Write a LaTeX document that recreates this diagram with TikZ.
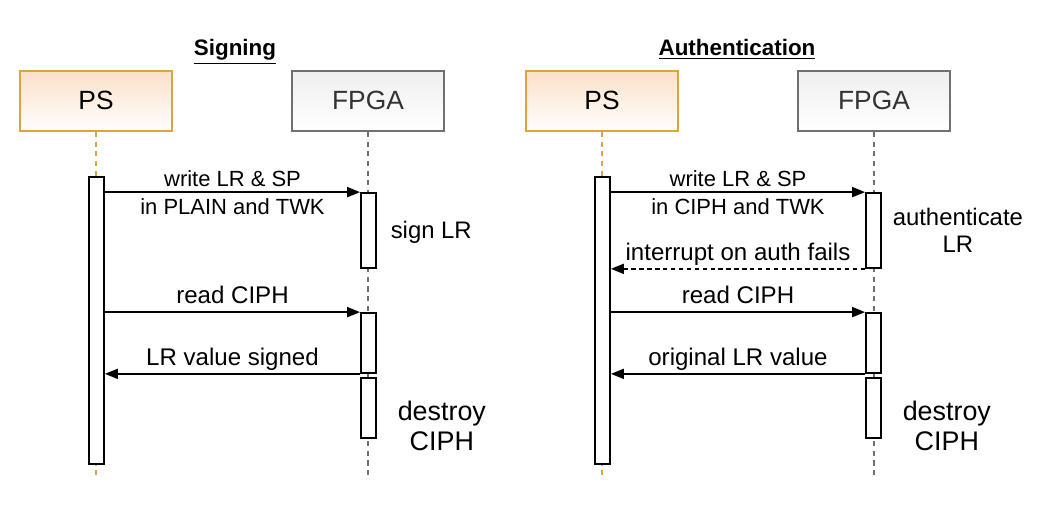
\documentclass[tikz,border=0pt]{standalone}
\usepackage{fontspec}
\setmainfont{Liberation Sans}
\usetikzlibrary{arrows.meta, positioning}

\definecolor{psline}{HTML}{D9A441}
\definecolor{psfill}{HTML}{FAE1C9}
\definecolor{fpgaline}{HTML}{707070}
\definecolor{fpgafill}{HTML}{EFEFEF}
\definecolor{fpgatext}{HTML}{333333}

\begin{document}
\begin{tikzpicture}[x = 0.02cm, y = -0.02cm, line width = 1pt,
  head/.style = { draw, minimum width = 3.04cm, minimum height = 1.2cm, inner sep = 0pt, text height = 0.94em, text depth = 0pt, font = \fontsize{15}{18}\selectfont },
  ps/.style = { head, draw = psline, top color = psfill, bottom color = white!97!psfill },
  fpga/.style = { head, draw = fpgaline, top color = fpgafill, bottom color = white, text = fpgatext },
  title/.style = { anchor = base, font = \fontsize{12.75}{15}\selectfont\bfseries },
  bar/.style = { draw, fill = white, minimum width = 0.3cm, inner sep = 0pt },
  lifeline/.style = { dash pattern = on 3pt off 2.5pt },
  msg/.style = { -{Triangle[length = 0.26cm, width = 0.2cm]} },
  reply/.style = { msg, dash pattern = on 2.5pt off 2pt },
  lbl/.style = { inner sep = 0pt, text depth = 0pt, font = \fontsize{13.7}{16}\selectfont },
  small lbl/.style = { lbl, font = \fontsize{12.5}{15}\selectfont },
  note/.style = { inner sep = 0pt, align = center, font = \fontsize{13.6}{15.4}\selectfont },
  big note/.style = { note, font = \fontsize{15.3}{17}\selectfont }]

  \useasboundingbox (0, 0) rectangle (1050, 506);

  % titles
  \node [title] (sTitle) at (235, 56) {\underline{Signing}};
  \node [title] (aTitle) at (737, 56) {\underline{Authentication}};

  % participants
  \node [ps] (sPS) at (96, 101) {PS};
  \node [fpga] (sFPGA) at (368, 101) {FPGA};
  \node [ps] (aPS) at (602, 101) {PS};
  \node [fpga] (aFPGA) at (874, 101) {FPGA};

  % lifelines
  \coordinate (sPSend) at (96, 478);
  \coordinate (sFPGAend) at (368, 478);
  \coordinate (aPSend) at (602, 478);
  \coordinate (aFPGAend) at (874, 478);
  \draw [lifeline, draw = psline] (sPS) -- (sPSend);
  \draw [lifeline, draw = fpgaline] (sFPGA) -- (sFPGAend);
  \draw [lifeline, draw = psline] (aPS) -- (aPSend);
  \draw [lifeline, draw = fpgaline] (aFPGA) -- (aFPGAend);

  % activations
  \node [bar, minimum height = 5.74cm] (sPSbar) at (96.5, 320.5) {};
  \node [bar, minimum height = 1.5cm] (sF1) at (368.5, 230.5) {};
  \node [bar, minimum height = 1.2cm] (sF2) at (368.5, 343) {};
  \node [bar, minimum height = 1.2cm] (sF3) at (368.5, 408) {};
  \node [bar, minimum height = 5.74cm] (aPSbar) at (602.5, 320.5) {};
  \node [bar, minimum height = 1.5cm] (aF1) at (873.5, 230.5) {};
  \node [bar, minimum height = 1.2cm] (aF2) at (873.5, 343) {};
  \node [bar, minimum height = 1.2cm] (aF3) at (873.5, 408) {};

  % signing
  \draw [msg] (sPSbar.east |- sF1.north west) -- node [above = 2.8pt, small lbl] {write LR \& SP} node [below = 3.4pt, small lbl] {in PLAIN and TWK} (sF1.north west);
  \draw [msg] (sPSbar.east |- sF2.north west) -- node [above = 4.5pt, lbl] {read CIPH} (sF2.north west);
  \draw [msg] (sF2.south west) -- node [above = 4.5pt, lbl] {LR value signed} (sPSbar.east |- sF2.south west);
  \node [note, right = 0.26cm of sF1, yshift = -0.04cm] (sSign) {sign LR};
  \node [big note, right = 0.4cm of sF3, yshift = -0.36cm] (sDestroy) {destroy\\CIPH};

  % authentication
  \draw [msg] (aPSbar.east |- aF1.north west) -- node [above = 2.8pt, small lbl] {write LR \& SP} node [below = 3.4pt, small lbl] {in CIPH and TWK} (aF1.north west);
  \draw [reply] (aF1.south west) -- node [above = 4.5pt, lbl] {interrupt on auth fails} (aPSbar.east |- aF1.south west);
  \draw [msg] (aPSbar.east |- aF2.north west) -- node [above = 4.5pt, lbl] {read CIPH} (aF2.north west);
  \draw [msg] (aF2.south west) -- node [above = 4.5pt, lbl] {original LR value} (aPSbar.east |- aF2.south west);
  \node [note, right = 0.2cm of aF1] (aAuth) {authenticate\\LR};
  \node [big note, right = 0.4cm of aF3, yshift = -0.36cm] (aDestroy) {destroy\\CIPH};
\end{tikzpicture}
\end{document}
